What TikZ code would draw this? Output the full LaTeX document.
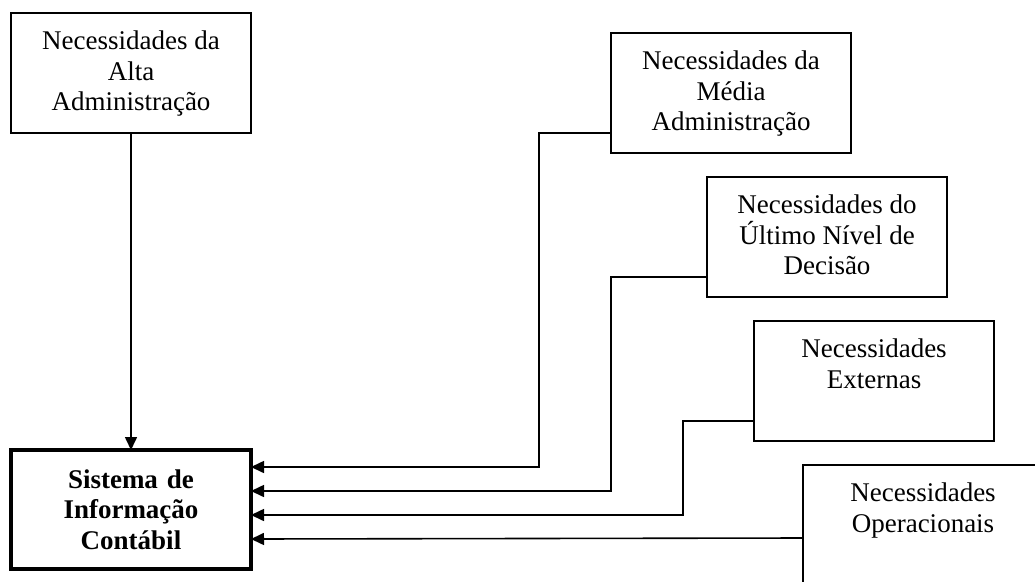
\documentclass[tikz,border=0pt]{standalone}
\usepackage{fontspec}
\setmainfont{Liberation Serif}
\usetikzlibrary{arrows.meta}

% text block of a need box: lines centred, hanging from the top of the box
\newcommand{\needtext}[1]{\parbox[c][84pt][t]{234pt}{\centering\fontsize{27pt}{30.5pt}\selectfont #1}}

\tikzset{
  needbox/.style={draw, line width=1.8pt, rectangle, inner sep=0pt, outer sep=0pt,
    minimum width=240pt, minimum height=120pt, anchor=north west},
  sysbox/.style={draw, line width=4pt, rectangle, inner sep=0pt, outer sep=0pt,
    minimum width=240pt, minimum height=119pt, anchor=north west,
    text width=230pt, align=center, font=\bfseries\fontsize{27pt}{30.5pt}\selectfont},
  conn/.style={line width=1.6pt, -{Triangle[length=13pt,width=12pt]}},
}

\begin{document}
\begin{tikzpicture}[x=1pt, y=-1pt]
  \clip (0,0) rectangle (1035,581);
  \fill[white] (0,0) rectangle (1035,581);

  % information system
  \node[sysbox] (sic) at (11,450) {Sistema de\\Informação\\Contábil};

  % sources of information needs
  \node[needbox] (alta) at (11,13)  {\needtext{Necessidades da\\Alta\\Administração}};
  \node[needbox] (media) at (611,33) {\needtext{Necessidades da\\Média\\Administração}};
  \node[needbox] (ultimo) at (707,177) {\needtext{Necessidades do\\Último Nível de\\Decisão}};
  \node[needbox] (externas) at (754,321) {\needtext{Necessidades\\Externas}};
  \node[needbox] (operac) at (803,465) {\needtext{Necessidades\\Operacionais}};

  % connectors into the system
  \draw[conn] (alta.south) -- (sic.north -| alta.south);
  \draw[conn] ([yshift=20pt]media.south west) -- ++(-72,0)
      |- ([yshift=-17pt]sic.north east);
  \draw[conn] ([yshift=20pt]ultimo.south west) -- ++(-96,0)
      |- ([yshift=-41pt]sic.north east);
  \draw[conn] ([yshift=20pt]externas.south west) -- ++(-71,0)
      |- ([yshift=-65pt]sic.north east);
  \draw[conn] ([yshift=-73pt]operac.north west) -- ([yshift=-89pt]sic.north east);
\end{tikzpicture}
\end{document}
